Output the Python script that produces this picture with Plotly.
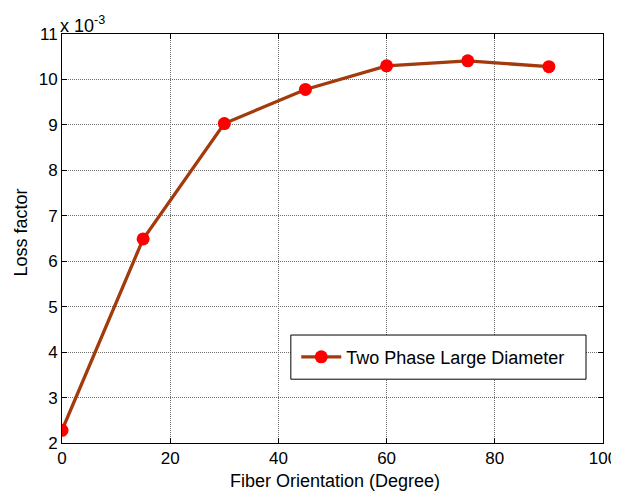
import plotly.graph_objects as go

fiber_orientation = [0, 15, 30, 45, 60, 75, 90]
loss_factor_e3 = [2.28, 6.49, 9.03, 9.78, 10.30, 10.41, 10.28]
series_name = "Two Phase Large Diameter"
x_ticks = [0, 20, 40, 60, 80, 100]
y_ticks = [2, 3, 4, 5, 6, 7, 8, 9, 10, 11]

FAM = "Liberation Sans, Arial, sans-serif"
tick_font = dict(family=FAM, size=17, color="black")
label_font = dict(family=FAM, size=18, color="black")

fig = go.Figure()
fig.add_trace(go.Scatter(
    x=fiber_orientation, y=loss_factor_e3, mode="lines+markers", name=series_name,
    line=dict(color="#A33A0C", width=3.3),
    marker=dict(color="#FF0000", size=13, line=dict(width=0)),
))

axis_common = dict(
    showline=True, linecolor="black", linewidth=1, mirror="ticks",
    ticks="inside", ticklen=5, tickcolor="black",
    showgrid=True, gridcolor="#6e6e6e", griddash="1px,1px", gridwidth=1,
    zeroline=False, tickfont=tick_font, automargin=False,
)
fig.update_xaxes(range=[0, 100], tickvals=x_ticks, **axis_common)
fig.update_yaxes(range=[2, 11], tickvals=y_ticks, **axis_common)

# axis titles and exponent label
fig.add_annotation(xref="paper", yref="paper", x=0.505, y=0, xanchor="center", yanchor="middle",
                   yshift=-38, text="Fiber Orientation (Degree)", showarrow=False, font=label_font)
fig.add_annotation(xref="paper", yref="paper", x=0, y=0.5, xanchor="center", yanchor="middle",
                   xshift=-42, yshift=6, textangle=-90, text="Loss factor", showarrow=False, font=label_font)
fig.add_annotation(xref="paper", yref="paper", x=0, y=1, xanchor="left", yanchor="bottom",
                   text="x 10<sup>-3</sup>", showarrow=False, font=label_font, yshift=-4, xshift=-4)

# legend box
fig.add_shape(type="rect", xref="paper", yref="paper",
              x0=0.423, x1=0.9686, y0=0.156, y1=0.264,
              line=dict(color="black", width=1), fillcolor="white", layer="above")

# page body has an 8px margin, so the figure is sized/offset to compensate
fig.update_layout(
    width=611, height=485,
    margin=dict(l=54, r=16, t=26, b=50, autoexpand=False),
    paper_bgcolor="white", plot_bgcolor="white",
    font=label_font,
    showlegend=True,
    legend=dict(x=0.433, y=0.21, xanchor="left", yanchor="middle",
                borderwidth=0, bgcolor="rgba(0,0,0,0)", font=label_font,
                itemwidth=40),
)

fig.write_html("out.html")
